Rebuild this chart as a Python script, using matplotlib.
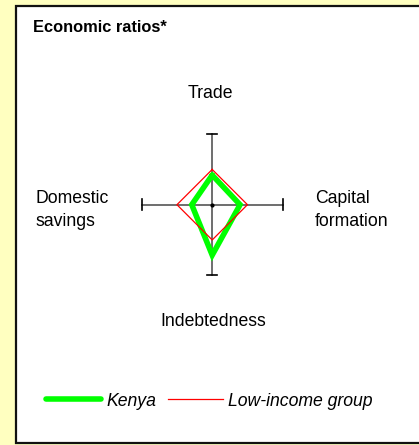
import matplotlib
matplotlib.use('Agg')
import matplotlib.pyplot as plt
from matplotlib.patches import Rectangle

# dane (skala: grupa niskodochodowa = 1)
axes_names = ['Trade', 'Capital\nformation', 'Indebtedness', 'Domestic\nsavings']
kenya = [0.84, 0.79, 1.43, 0.58]
low_income = [1.0, 1.0, 1.0, 1.0]
series_names = ['Kenya', 'Low-income group']

W, H = 419, 445
plt.rcParams['font.family'] = ['Liberation Sans', 'DejaVu Sans']

fig = plt.figure(figsize=(W / 100, H / 100), dpi=100)
fig.patch.set_facecolor('#FFFFC0')

# biała ramka (pod osiami)
fig.patches.append(Rectangle((15.5 / W, 2 / H), 1.0, (H - 8) / H, transform=fig.transFigure,
                             facecolor='white', edgecolor='#111111', linewidth=1.6, zorder=-5))

fig.text(33 / W, 1 - 27 / H, 'Economic ratios*', fontsize=11.8, fontweight='bold', va='center', ha='left')

# osie diamentu
cx, cy, half = 212.2, 204.7, 70.5
ax = fig.add_axes([(cx - half) / W, 1 - (cy + half) / H, 2 * half / W, 2 * half / H])
ax.set_xlim(-2, 2)
ax.set_ylim(-2, 2)
ax.axis('off')

ax.plot([-2, 2], [0, 0], color='#555555', lw=1.2, zorder=1, clip_on=False)
ax.plot([0, 0], [-2, 2], color='#555555', lw=1.2, zorder=1, clip_on=False)
cap = 0.15
for s in (-2, 2):
    ax.plot([s, s], [-cap, cap], color='black', lw=1.2, clip_on=False)
    ax.plot([-cap, cap], [s, s], color='black', lw=1.2, clip_on=False)
ax.plot([0], [0], 'o', color='black', ms=2)

def diamond(v):
    xs = [0, v[1], 0, -v[3], 0]
    ys = [v[0], 0, -v[2], 0, v[0]]
    return xs, ys

kx, ky = diamond(kenya)
lx, ly = diamond(low_income)
l1, = ax.plot(kx, ky, color='#00FF00', lw=4, solid_joinstyle='miter', solid_capstyle='round',
              clip_on=False, zorder=3, label=series_names[0])
l2, = ax.plot(lx, ly, color='#FF0000', lw=0.9, clip_on=False, zorder=4, label=series_names[1])

# etykiety osi
fs = 12.7
fig.text(210.5 / W, 1 - 93 / H, axes_names[0], fontsize=fs, ha='center', va='center')
fig.text(315 / W, 1 - 210 / H, axes_names[1], fontsize=fs, ha='left', va='center', linespacing=1.4)
fig.text(213 / W, 1 - 322 / H, axes_names[2], fontsize=fs, ha='center', va='center')
fig.text(35.5 / W, 1 - 210 / H, axes_names[3], fontsize=fs, ha='left', va='center', linespacing=1.4)

# legenda
leg = fig.legend(handles=[l1, l2], loc='center', bbox_to_anchor=(209.5 / W, 1 - 401 / H), ncol=2,
                 frameon=False, handlelength=3.1, handletextpad=0.3, columnspacing=0.7,
                 prop={'size': fs, 'style': 'italic'})

fig.savefig('out.png', dpi=100, facecolor=fig.get_facecolor())
